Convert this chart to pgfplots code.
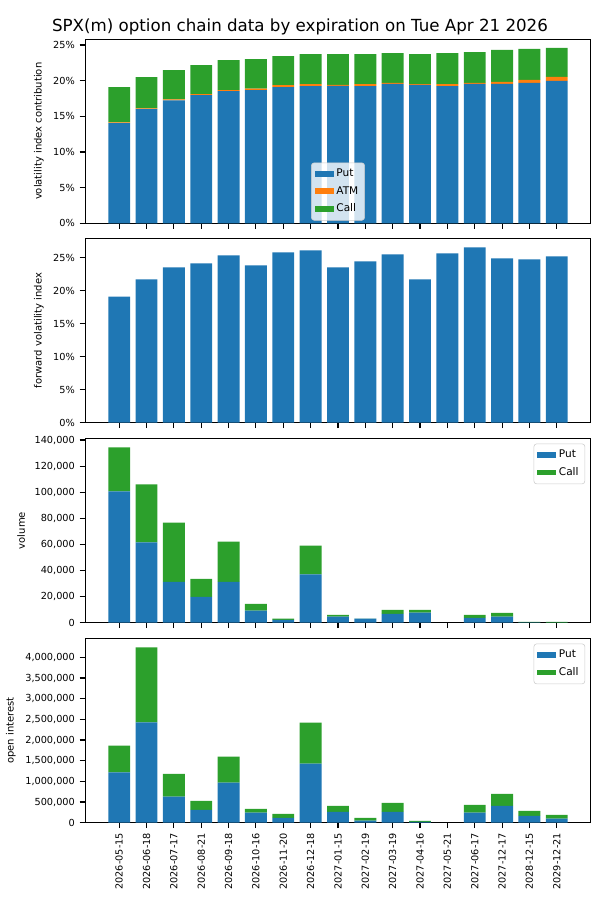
\documentclass[border=0pt]{standalone}
\usepackage{fontspec}
\setmainfont{DejaVu Sans}
\usepackage{pgfplots}
\usepackage{pgfplotstable}
\pgfplotsset{compat=1.18}

\definecolor{tabblue}{HTML}{1F77B4}
\definecolor{taborange}{HTML}{FF7F0E}
\definecolor{tabgreen}{HTML}{2CA02C}

% volatility index contribution (%), split by put / ATM / call
\pgfplotstableread{
x  put    atm   call
0  14.05  0.10  4.94
1  16.02  0.10  4.38
2  17.24  0.14  4.10
3  17.98  0.14  4.07
4  18.55  0.14  4.20
5  18.69  0.18  4.16
6  19.11  0.28  4.06
7  19.25  0.28  4.20
8  19.27  0.14  4.32
9  19.25  0.28  4.20
10 19.56  0.14  4.17
11 19.42  0.10  4.21
12 19.25  0.28  4.34
13 19.56  0.14  4.31
14 19.56  0.28  4.46
15 19.70  0.42  4.32
16 19.98  0.56  4.04
}\contribtable

% forward volatility index (%)
\pgfplotstableread{
x  fwd
0  19.11
1  21.70
2  23.52
3  24.13
4  25.35
5  23.83
6  25.81
7  26.11
8  23.52
9  24.44
10 25.50
11 21.70
12 25.65
13 26.57
14 24.89
15 24.74
16 25.20
}\fwdtable

% traded volume
\pgfplotstableread{
x  put     call
0  100540  33840
1  61540   44380
2  31300   45390
3  19770   13840
4  31300   30770
5  9230    5150
6  2080    1000
7  36920   22080
8  4620    1300
9  3080    60
10 6690    3080
11 7690    2080
12 0       0
13 3620    2380
14 4620    2840
15 150     450
16 100     400
}\voltable

% open interest
\pgfplotstableread{
x  put      call
0  1214000  649000
1  2429000  1814000
2  631000   552000
3  308000   219000
4  971000   625000
5  243000   90000
6  114000   97000
7  1426000  995000
8  260000   146000
9  49000    65000
10 260000   218000
11 17000    24000
12 0        0
13 243000   187000
14 406000   291000
15 163000   121000
16 97000    90000
}\oitable

\pgfplotsset{
  chainpanel/.style={
    scale only axis,
    width=363.9pt, height=132.5pt,
    anchor=south west,
    xmin=-1.24, xmax=17.24, ymin=0,
    xtick={0,...,16},
    tick pos=left,
    tick align=outside,
    major tick length=4pt,
    every tick/.style={black, line width=0.8pt},
    axis line style={line width=0.8pt},
    ybar stacked,
    bar width=0.8,
    xticklabels={},
    scaled y ticks=false,
    /pgf/number format/assume math mode=true,
    tick label style={font=\fontsize{7}{8}\selectfont},
    label style={font=\fontsize{7.2}{8}\selectfont},
    legend image code/.code={%
      \fill[##1, sharp corners, fill opacity=1] (0pt,-2.1pt) rectangle (13.5pt,2.1pt);},
    legend cell align=left,
    legend style={font=\fontsize{7.6}{8.5}\selectfont, fill=white,
      fill opacity=0.8, text opacity=1, draw=black!20, rounded corners=2pt,
      inner sep=2.5pt, row sep=1.5pt},
  },
  pctaxis/.style={
    ytick={0,5,10,15,20,25},
    yticklabel={\pgfmathprintnumber{\tick}\%},
  },
}

\begin{document}
\begin{tikzpicture}
\path[use as bounding box] (0pt,0pt) rectangle (432pt,648pt);

\node[anchor=base, font=\fontsize{12}{14}\selectfont] at (216pt,625.2pt)
  {SPX(m) option chain data by expiration on Tue Apr 21 2026};

% contribution to the volatility index
\begin{axis}[chainpanel, pctaxis, at={(61.4pt,487.2pt)}, ymax=25.8,
    ylabel={volatility index contribution},
    legend style={at={(0.5,0.015)}, anchor=south}]
  \addplot[fill=tabblue, draw=none] table[x=x, y=put] {\contribtable};
  \addplot[fill=taborange, draw=none] table[x=x, y=atm] {\contribtable};
  \addplot[fill=tabgreen, draw=none] table[x=x, y=call] {\contribtable};
  \legend{Put, ATM, Call}
\end{axis}

% forward volatility
\begin{axis}[chainpanel, pctaxis, at={(61.4pt,343.7pt)}, ymax=27.89,
    ylabel={forward volatility index}]
  \addplot[fill=tabblue, draw=none] table[x=x, y=fwd] {\fwdtable};
\end{axis}

% volume
\begin{axis}[chainpanel, at={(61.4pt,199.7pt)}, ymax=141070,
    ytick={0,20000,40000,60000,80000,100000,120000,140000},
    yticklabel style={/pgf/number format/fixed, /pgf/number format/1000 sep={,}},
    ylabel={volume},
    legend style={at={(0.989,0.973)}, anchor=north east}]
  \addplot[fill=tabblue, draw=none] table[x=x, y=put] {\voltable};
  \addplot[fill=tabgreen, draw=none] table[x=x, y=call] {\voltable};
  \legend{Put, Call}
\end{axis}

% open interest
\begin{axis}[chainpanel, at={(61.4pt,55.7pt)}, ymax=4454000,
    ytick={0,500000,1000000,1500000,2000000,2500000,3000000,3500000,4000000},
    yticklabel style={/pgf/number format/fixed, /pgf/number format/1000 sep={,}},
    ylabel={open interest},
    xticklabels={2026-05-15,2026-06-18,2026-07-17,2026-08-21,2026-09-18,
      2026-10-16,2026-11-20,2026-12-18,2027-01-15,2027-02-19,2027-03-19,
      2027-04-16,2027-05-21,2027-06-17,2027-12-17,2028-12-15,2029-12-21},
    xticklabel style={rotate=90, anchor=east},
    legend style={at={(0.989,0.973)}, anchor=north east}]
  \addplot[fill=tabblue, draw=none] table[x=x, y=put] {\oitable};
  \addplot[fill=tabgreen, draw=none] table[x=x, y=call] {\oitable};
  \legend{Put, Call}
\end{axis}
\end{tikzpicture}
\end{document}
